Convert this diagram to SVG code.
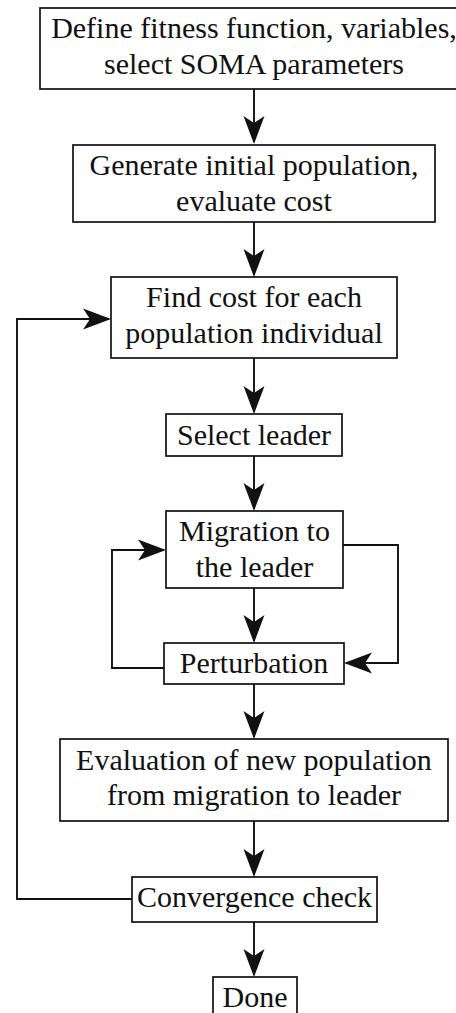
<svg xmlns="http://www.w3.org/2000/svg" width="456" height="1013" viewBox="0 0 456 1013">
  <style>
    .box { fill: #ffffff; stroke: #111111; stroke-width: 1.7; }
    .lbl { font-size: 30px; fill: #111111; text-anchor: middle; }
    .wire { fill: none; stroke: #111111; stroke-width: 1.9; stroke-linejoin: miter; }
  </style>
  <defs>
    <marker id="arr" viewBox="-29 -11 30 22" refX="-2" refY="0" markerWidth="30" markerHeight="22" orient="auto" markerUnits="userSpaceOnUse">
      <path d="M0,0 L-28,-10.5 L-21,0 L-28,10.5 Z" fill="#111111"/>
    </marker>
  </defs>

  <!-- connectors -->
  <g id="connectors" class="wire">
    <path d="M254,89 V142" marker-end="url(#arr)"/>
    <path d="M254,222 V275" marker-end="url(#arr)"/>
    <path d="M254,358 V412" marker-end="url(#arr)"/>
    <path d="M254,456 V509" marker-end="url(#arr)"/>
    <path d="M254,588 V641" marker-end="url(#arr)"/>
    <path d="M254,684 V737" marker-end="url(#arr)"/>
    <path d="M254,821 V875" marker-end="url(#arr)"/>
    <path d="M254,922 V975" marker-end="url(#arr)"/>
    <!-- outer loop: convergence check back to cost evaluation -->
    <path d="M132,899 H17 V319 H109" marker-end="url(#arr)"/>
    <!-- inner loop: perturbation back to migration -->
    <path d="M164,668 H112 V550 H164" marker-end="url(#arr)"/>
    <!-- inner loop: migration to perturbation -->
    <path d="M343,545 H398 V663 H346" marker-end="url(#arr)"/>
  </g>

  <g id="nodes" font-family="'Liberation Serif', 'Times New Roman', 'DejaVu Serif', serif">
    <g id="define">
      <rect class="box" x="40" y="8" width="428" height="81"/>
      <text class="lbl" x="254" y="38">Define fitness function, variables,</text>
      <text class="lbl" x="254" y="74">select SOMA parameters</text>
    </g>

    <g id="generate">
      <rect class="box" x="73" y="145" width="362" height="77"/>
      <text class="lbl" x="254" y="175">Generate initial population,</text>
      <text class="lbl" x="254" y="211">evaluate cost</text>
    </g>

    <g id="find-cost">
      <rect class="box" x="111" y="277" width="286" height="81"/>
      <text class="lbl" x="254" y="307">Find cost for each</text>
      <text class="lbl" x="254" y="343">population individual</text>
    </g>

    <g id="select-leader">
      <rect class="box" x="166" y="414" width="176" height="42"/>
      <text class="lbl" x="254" y="445">Select leader</text>
    </g>

    <g id="migration">
      <rect class="box" x="166" y="511" width="177" height="77"/>
      <text class="lbl" x="254.5" y="541">Migration to</text>
      <text class="lbl" x="254.5" y="577">the leader</text>
    </g>

    <g id="perturbation">
      <rect class="box" x="164" y="643" width="180" height="41"/>
      <text class="lbl" x="254" y="673">Perturbation</text>
    </g>

    <g id="evaluation">
      <rect class="box" x="60" y="739" width="388" height="82"/>
      <text class="lbl" x="254" y="770">Evaluation of new population</text>
      <text class="lbl" x="254" y="805">from migration to leader</text>
    </g>

    <g id="convergence">
      <rect class="box" x="132" y="877" width="245" height="45"/>
      <text class="lbl" x="254.5" y="907">Convergence check</text>
    </g>

    <g id="done">
      <rect class="box" x="213" y="977" width="84" height="42"/>
      <text class="lbl" x="255" y="1007">Done</text>
    </g>
  </g>
</svg>
